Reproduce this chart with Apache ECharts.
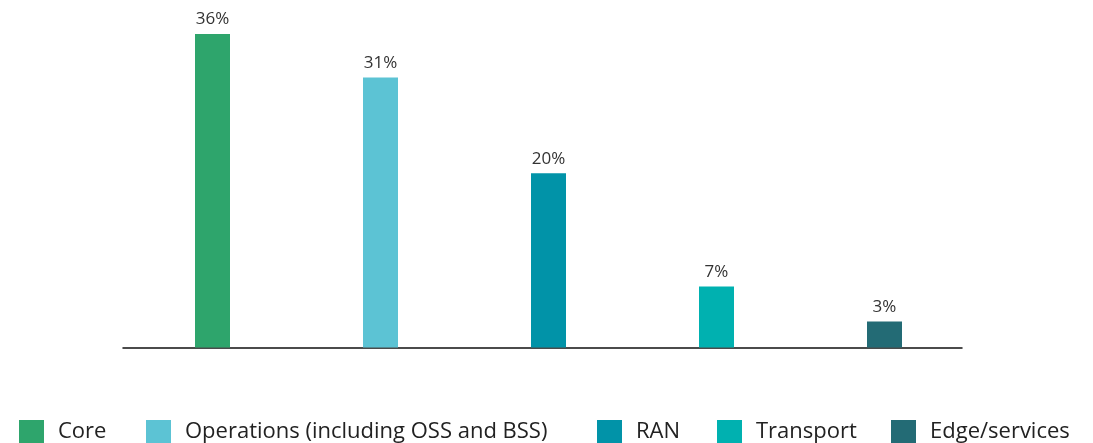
<!DOCTYPE html>
<html>
<head>
<meta charset="utf-8">
<script src="https://cdn.jsdelivr.net/npm/echarts@6/dist/echarts.min.js"></script>
<style>
  html, body { margin: 0; padding: 0; background: #fff; }
  #chart { width: 1093px; height: 443px; }
</style>
</head>
<body>
<div id="chart"></div>
<script>
// Share of spending by network domain (%)
const categories = ['Core', 'Operations (including OSS and BSS)', 'RAN', 'Transport', 'Edge/services'];
const values = [36, 31, 20, 7, 3];
const colors = ['#2EA56C', '#5CC3D4', '#0193A8', '#00B1B0', '#236B75'];

// left edge of each legend entry along the bottom row
const legendLefts = [19, 146, 597, 717, 891];

const chart = echarts.init(document.getElementById('chart'));

// one series per category so each gets its own legend entry
const series = categories.map((name, i) => ({
  name: name,
  type: 'bar',
  stack: 'share',
  barWidth: 35,
  xAxisIndex: 0,
  yAxisIndex: 0,
  itemStyle: { color: colors[i] },
  data: values.map((v, j) => (j === i ? v : null)),
  label: {
    show: true,
    position: 'top',
    distance: 6,
    color: '#333',
    fontSize: 17,
    fontFamily: 'Open Sans',
    formatter: p => p.value + '%'
  }
}));

// empty series that only carries the baseline grid
series.push({
  type: 'line',
  xAxisIndex: 1,
  yAxisIndex: 1,
  data: [],
  silent: true
});

const legends = categories.map((name, i) => ({
  data: [name],
  left: legendLefts[i],
  top: 420,
  itemWidth: 25,
  itemHeight: 23,
  icon: 'rect',
  padding: 0,
  textStyle: {
    fontSize: 22,
    color: '#222',
    fontFamily: 'Open Sans',
    padding: [0, 0, 4, 9]
  }
}));

chart.setOption({
  animation: false,
  legend: legends,
  grid: [
    { left: 128.5, width: 840, top: 34, bottom: 95.5 },
    { left: 123, width: 839, top: 34, bottom: 95.5 }
  ],
  xAxis: [
    {
      type: 'category',
      gridIndex: 0,
      data: categories,
      axisLine: { show: false },
      axisTick: { show: false },
      axisLabel: { show: false }
    },
    {
      type: 'value',
      gridIndex: 1,
      min: 0,
      max: 1,
      axisLine: { show: true, lineStyle: { color: '#111', width: 1.5 } },
      axisTick: { show: false },
      axisLabel: { show: false },
      splitLine: { show: false }
    }
  ],
  yAxis: [
    { type: 'value', gridIndex: 0, min: 0, max: 36, show: false, splitLine: { show: false } },
    { type: 'value', gridIndex: 1, min: 0, max: 1, show: false, splitLine: { show: false } }
  ],
  series: series
});
</script>
</body>
</html>
